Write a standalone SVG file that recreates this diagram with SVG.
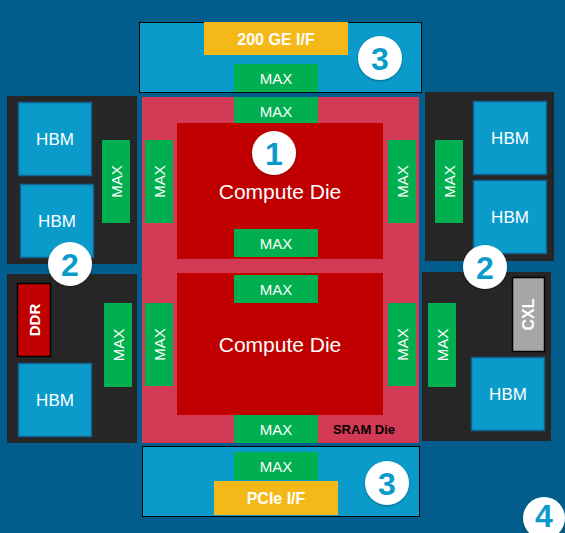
<svg xmlns="http://www.w3.org/2000/svg" width="565" height="533" viewBox="0 0 565 533">
<defs>
<style>
.bg{fill:#035d8c}
.blk{fill:#262626}
.io{fill:#0a9bcb;stroke:#000;stroke-width:1}
.sram{fill:#d33a55}
.die{fill:#c00000}
.max{fill:#00b050}
.hbm{fill:#0a9bcb;stroke:#12628f;stroke-width:1.5}
.yel{fill:#f4b918}
.ddr{fill:#c00000;stroke:#000;stroke-width:1.5}
.cxl{fill:#a6a6a6;stroke:#000;stroke-width:1.5}
.t{font-family:"Liberation Sans",Arial,sans-serif;fill:#fff;text-anchor:middle;dominant-baseline:central}
.tm{font-size:15px}
.th{font-size:17px}
.tc{font-size:21px}
.tb{font-weight:bold;font-size:16px}
.ts{font-weight:bold;font-size:13px;fill:#000}
.circ{fill:#fff}
.num{font-family:"Liberation Sans",Arial,sans-serif;font-weight:bold;font-size:32px;fill:#0a9bcb;text-anchor:middle;dominant-baseline:central}
</style>
<filter id="sh" x="-30%" y="-30%" width="160%" height="160%"><feDropShadow dx="0" dy="1" stdDeviation="1.2" flood-color="#000" flood-opacity="0.35"/></filter>
</defs>
<rect class="bg" x="0" y="0" width="565" height="533"/>
<g id="connectors"/>

<g id="top-io">
<rect class="io" x="139.5" y="22.5" width="282" height="70"/>
<rect class="yel" x="204" y="22" width="144" height="33"/>
<text class="t tb" x="276" y="39">200 GE I/F</text>
<rect class="max" x="234" y="64" width="84" height="28"/>
<text class="t tm" x="276" y="78">MAX</text>
</g>

<g id="sram-die">
<rect class="sram" x="142" y="97" width="277" height="346"/>
<text class="t ts" x="364" y="429">SRAM Die</text>
</g>

<g id="compute-die-1">
<rect class="max" x="234" y="97" width="84" height="28"/>
<text class="t tm" x="276" y="111">MAX</text>
<rect class="die" x="177" y="123" width="206" height="136"/>
<text class="t tc" x="280" y="191">Compute Die</text>
<rect class="max" x="234" y="229" width="84" height="28"/>
<text class="t tm" x="276" y="243">MAX</text>
<rect class="max" x="145" y="140" width="28" height="83"/>
<text class="t tm" transform="translate(159,181.5) rotate(-90)">MAX</text>
<rect class="max" x="388" y="140" width="28" height="83"/>
<text class="t tm" transform="translate(402,181.5) rotate(-90)">MAX</text>
</g>

<g id="compute-die-2">
<rect class="die" x="177" y="273" width="206" height="142"/>
<rect class="max" x="234" y="275" width="84" height="28"/>
<text class="t tm" x="276" y="289">MAX</text>
<text class="t tc" x="280" y="344">Compute Die</text>
<rect class="max" x="234" y="415" width="84" height="28"/>
<text class="t tm" x="276" y="429">MAX</text>
<rect class="max" x="145" y="303" width="28" height="83"/>
<text class="t tm" transform="translate(159,344.5) rotate(-90)">MAX</text>
<rect class="max" x="388" y="303" width="28" height="83"/>
<text class="t tm" transform="translate(402,344.5) rotate(-90)">MAX</text>
</g>

<g id="bottom-io">
<rect class="io" x="142.5" y="446.5" width="277" height="70"/>
<rect class="max" x="234" y="452" width="84" height="28"/>
<text class="t tm" x="276" y="466">MAX</text>
<rect class="yel" x="214" y="481" width="124" height="34"/>
<text class="t tb" x="276" y="498">PCIe I/F</text>
</g>

<g id="left-top">
<rect class="blk" x="7" y="96" width="130" height="168"/>
<rect class="hbm" x="18.5" y="102.5" width="73" height="73"/>
<text class="t th" x="55" y="139">HBM</text>
<rect class="hbm" x="20.5" y="184.5" width="73" height="73"/>
<text class="t th" x="57" y="221">HBM</text>
<rect class="max" x="102" y="140" width="28" height="83"/>
<text class="t tm" transform="translate(116,181.5) rotate(-90)">MAX</text>
</g>

<g id="left-bottom">
<rect class="blk" x="7" y="274" width="130" height="169"/>
<rect class="ddr" x="17.5" y="283.5" width="33" height="73"/>
<text class="t tb" style="font-size:15px" transform="translate(34,320) rotate(-90)">DDR</text>
<rect class="max" x="104" y="303" width="28" height="84"/>
<text class="t tm" transform="translate(118,345) rotate(-90)">MAX</text>
<rect class="hbm" x="18.5" y="363.5" width="73" height="73"/>
<text class="t th" x="55" y="400">HBM</text>
</g>

<g id="right-top">
<rect class="blk" x="425" y="92" width="129" height="169"/>
<rect class="hbm" x="473.5" y="101.5" width="73" height="73"/>
<text class="t th" x="510" y="138">HBM</text>
<rect class="hbm" x="473.5" y="180.5" width="73" height="73"/>
<text class="t th" x="510" y="217">HBM</text>
<rect class="max" x="435" y="140" width="28" height="83"/>
<text class="t tm" transform="translate(449,181.5) rotate(-90)">MAX</text>
</g>

<g id="right-bottom">
<rect class="blk" x="422" y="272" width="129" height="169"/>
<rect class="cxl" x="512.5" y="277.5" width="32" height="74"/>
<text class="t tb" transform="translate(528.5,314.5) rotate(-90)">CXL</text>
<rect class="max" x="428" y="303" width="28" height="84"/>
<text class="t tm" transform="translate(442,345) rotate(-90)">MAX</text>
<rect class="hbm" x="471.5" y="357.5" width="73" height="73"/>
<text class="t th" x="508" y="394">HBM</text>
</g>

<g id="label-1"><circle class="circ" filter="url(#sh)" cx="274" cy="153" r="22"/><text class="num" x="274" y="154">1</text></g>
<g id="label-2-left"><circle class="circ" filter="url(#sh)" cx="70" cy="264" r="22"/><text class="num" x="70" y="265">2</text></g>
<g id="label-2-right"><circle class="circ" filter="url(#sh)" cx="485" cy="267" r="22"/><text class="num" x="485" y="268">2</text></g>
<g id="label-3-top"><circle class="circ" filter="url(#sh)" cx="380" cy="58" r="22"/><text class="num" x="380" y="59">3</text></g>
<g id="label-3-bottom"><circle class="circ" filter="url(#sh)" cx="387" cy="483" r="22"/><text class="num" x="387" y="484">3</text></g>
<g id="label-4"><circle class="circ" filter="url(#sh)" cx="544" cy="518" r="21"/><text class="num" x="544" y="516">4</text></g>
</svg>
